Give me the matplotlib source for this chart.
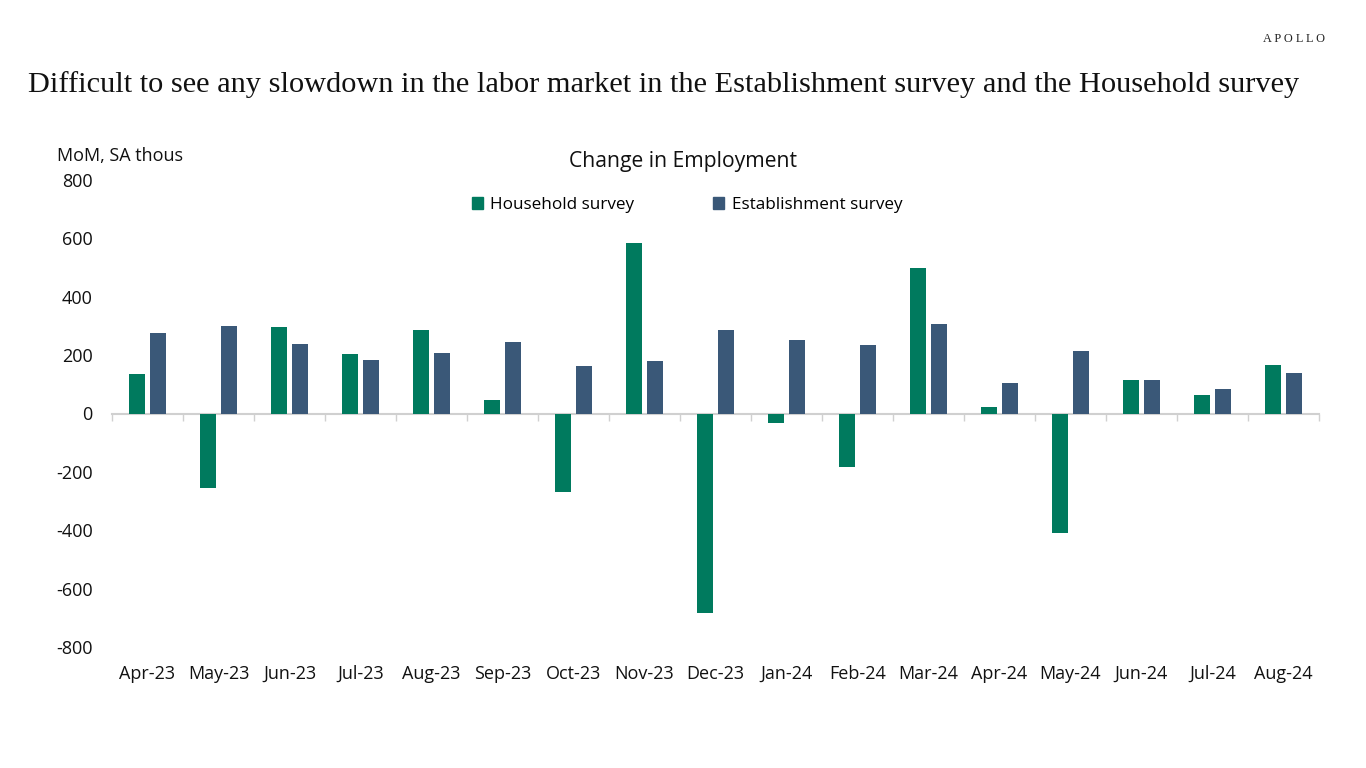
import matplotlib
matplotlib.use("Agg")
import matplotlib.pyplot as plt
import numpy as np
from matplotlib.patches import Patch

months = ["Apr-23", "May-23", "Jun-23", "Jul-23", "Aug-23", "Sep-23", "Oct-23", "Nov-23",
          "Dec-23", "Jan-24", "Feb-24", "Mar-24", "Apr-24", "May-24", "Jun-24", "Jul-24", "Aug-24"]
household = [137, -255, 295, 203, 287, 47, -269, 583, -682, -31, -183, 497, 23, -408, 115, 64, 166]
establishment = [276, 300, 239, 183, 207, 244, 163, 180, 287, 253, 235, 307, 105, 214, 115, 85, 139]
yticks = [-800, -600, -400, -200, 0, 200, 400, 600, 800]

GREEN = "#007A5E"
BLUE = "#3A5878"
SANS = ["Open Sans", "DejaVu Sans"]
SERIF = ["Liberation Serif", "DejaVu Serif"]

W, H = 1366, 768
fig = plt.figure(figsize=(W / 100, H / 100), dpi=100)
fig.patch.set_facecolor("white")
L, R, T, B = 112, 1319, 180, 647
ax = fig.add_axes([L / W, 1 - B / H, (R - L) / W, (B - T) / H])

x = np.arange(len(months))
bw = 0.225
off = 0.148
ax.bar(x - off, household, width=bw, color=GREEN, label="Household survey", zorder=3)
ax.bar(x + off, establishment, width=bw, color=BLUE, label="Establishment survey", zorder=3)

ax.set_xlim(-0.5, len(months) - 0.5)
ax.set_ylim(-800, 800)
ax.set_yticks(yticks)
ax.set_yticklabels([str(v) for v in yticks], fontfamily=SANS, fontsize=13, color="#111111")
ax.tick_params(axis="y", length=0, pad=14)

for s in ["top", "right", "left"]:
    ax.spines[s].set_visible(False)
ax.spines["bottom"].set_position(("data", 0))
ax.spines["bottom"].set_color("#D0D0D0")
ax.spines["bottom"].set_linewidth(1.5)
ax.set_xticks(x)
ax.set_xticklabels([])
ax.tick_params(axis="x", which="major", length=0)
ax.set_xticks(np.arange(len(months) + 1) - 0.5, minor=True)
ax.tick_params(axis="x", which="minor", length=5, width=1, color="#D0D0D0", direction="out")

sec = ax.secondary_xaxis(0)
sec.set_xticks(x)
sec.set_xticklabels(months, fontfamily=SANS, fontsize=13, color="#111111")
sec.tick_params(length=0, pad=13)
sec.spines["bottom"].set_visible(False)

fig.text(57 / W, 1 - 156 / H, "MoM, SA thous", fontfamily=SANS, fontsize=13,
         color="#111111", va="center", ha="left")
fig.text(683 / W, 1 - 161 / H, "Change in Employment", fontfamily=SANS, fontsize=15.2,
         color="#111111", va="center", ha="center")

handles = [Patch(color=GREEN, label="Household survey"),
           Patch(color=BLUE, label="Establishment survey")]
fig.legend(handles=handles, loc="center", bbox_to_anchor=(687 / W, 1 - 205 / H), ncol=2,
           frameon=False, prop={"family": SANS, "size": 12.3}, handlelength=0.65,
           handleheight=0.65, handletextpad=0.45, columnspacing=4.6)

fig.text(28 / W, 1 - 85 / H,
         "Difficult to see any slowdown in the labor market in the Establishment survey and the Household survey",
         fontfamily=SERIF, fontsize=21.9, color="#111111", va="center", ha="left")
fig.text(1325 / W, 1 - 39 / H, "A P O L L O", fontfamily=SERIF, fontsize=8.8,
         color="#222222", va="center", ha="right")

fig.savefig("out.png", dpi=100, facecolor="white")
